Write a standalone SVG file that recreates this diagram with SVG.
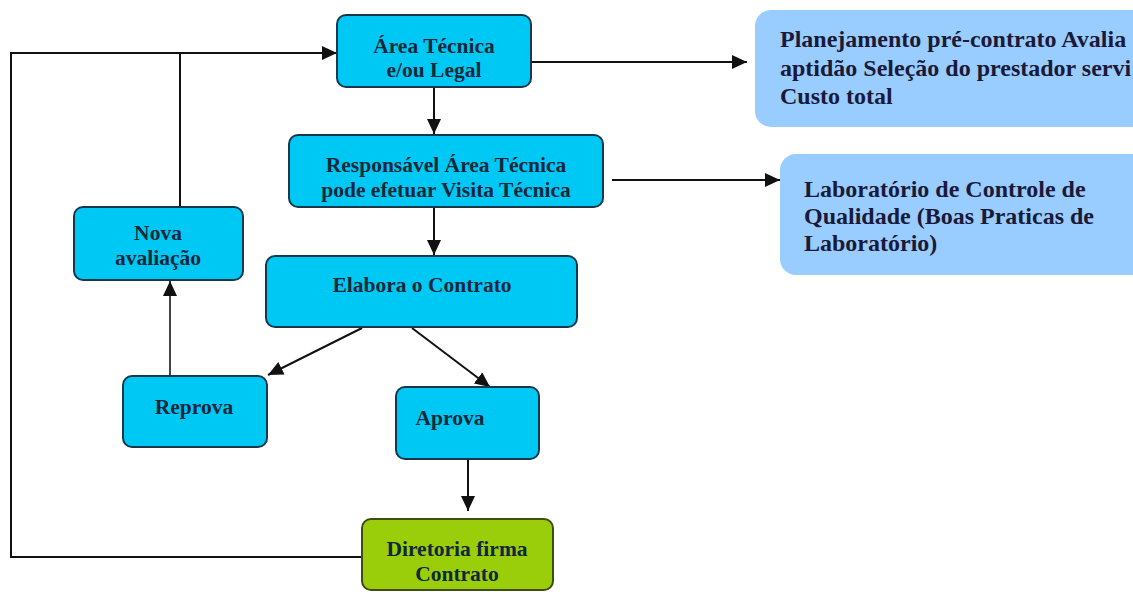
<svg xmlns="http://www.w3.org/2000/svg" width="1133" height="592" viewBox="0 0 1133 592">
<style>
.n rect{fill:#00c8f5;stroke:#17384a;stroke-width:2}
.g rect{fill:#9acd0a;stroke:#3d4d14;stroke-width:2}
.s rect{fill:#99ccff;stroke:none}
text{font-family:"Liberation Serif","Times New Roman",serif;font-weight:bold}
.n text,.g text{font-size:21.5px;fill:#10283a;text-anchor:middle}
.s text{font-size:24px;fill:#1a1a38}
.c path{fill:none;stroke:#111;stroke-width:2}
</style>
<defs>
<marker id="ah" markerUnits="userSpaceOnUse" markerWidth="16" markerHeight="14" refX="15" refY="7" orient="auto">
<path d="M0,0 L15,7 L0,14 Z" fill="#111"/>
</marker>
</defs>
<rect width="1133" height="592" fill="#fff"/>
<g class="c" id="connectors">
<path d="M362,557 H11 V53 H337" marker-end="url(#ah)"/>
<path d="M180,207 V53"/>
<path d="M531,62 H747" marker-end="url(#ah)"/>
<path d="M434,87 V134" marker-end="url(#ah)"/>
<path d="M612,180 H780" marker-end="url(#ah)"/>
<path d="M434,207 V255" marker-end="url(#ah)"/>
<path d="M362,328 L268,375" marker-end="url(#ah)"/>
<path d="M412,328 L490,387" marker-end="url(#ah)"/>
<path d="M170,376 V281" marker-end="url(#ah)" style="stroke:#444"/>
<path d="M468,459 V511" marker-end="url(#ah)"/>
</g>
<g class="n" id="area">
<rect x="337" y="15" width="194" height="72" rx="9"/>
<text x="434" y="53">Área Técnica</text>
<text x="434" y="77">e/ou Legal</text>
</g>
<g class="n" id="responsavel">
<rect x="289" y="135" width="314" height="72" rx="9"/>
<text x="446" y="172">Responsável Área Técnica</text>
<text x="446" y="197">pode efetuar Visita Técnica</text>
</g>
<g class="n" id="elabora">
<rect x="266" y="256" width="311" height="71" rx="9"/>
<text x="422" y="292">Elabora o Contrato</text>
</g>
<g class="n" id="nova">
<rect x="74" y="207" width="169" height="73" rx="9"/>
<text x="158" y="240">Nova</text>
<text x="158" y="265">avaliação</text>
</g>
<g class="n" id="reprova">
<rect x="123" y="376" width="144" height="71" rx="9"/>
<text x="194" y="414">Reprova</text>
</g>
<g class="n" id="aprova">
<rect x="396" y="387" width="143" height="72" rx="9"/>
<text x="450" y="425">Aprova</text>
</g>
<g class="g" id="diretoria">
<rect x="362" y="519" width="191" height="71" rx="9"/>
<text x="457" y="556">Diretoria firma</text>
<text x="457" y="581">Contrato</text>
</g>
<g class="s" id="planejamento">
<rect x="755" y="10" width="420" height="117" rx="16"/>
<text x="780" y="47">Planejamento pré-contrato Avalia</text>
<text x="780" y="76">aptidão Seleção do prestador servi</text>
<text x="780" y="104">Custo total</text>
</g>
<g class="s" id="laboratorio">
<rect x="780" y="154" width="400" height="121" rx="16"/>
<text x="804" y="197">Laboratório de Controle de</text>
<text x="804" y="224">Qualidade (Boas Praticas de</text>
<text x="804" y="251">Laboratório)</text>
</g>
</svg>
